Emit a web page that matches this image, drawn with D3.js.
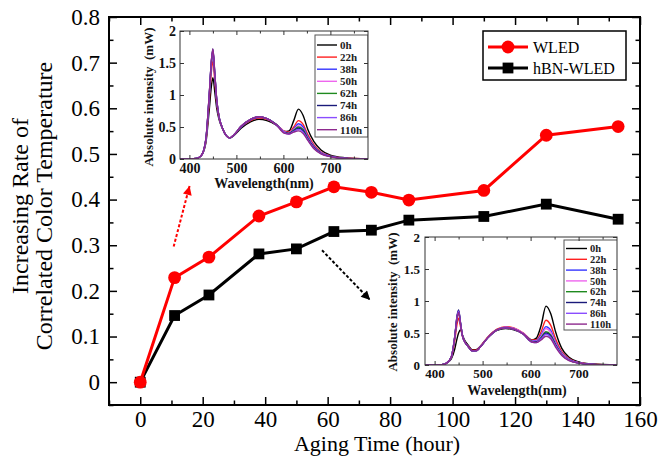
<!DOCTYPE html>
<html><head><meta charset="utf-8">
<script src="https://cdn.jsdelivr.net/npm/d3@7"></script>
<style>
body{margin:0;background:#fff}
svg{display:block}
svg text{font-family:"Liberation Serif","Times New Roman",Times,serif !important;}
</style>
</head><body>
<svg id="c" width="659" height="461"></svg>
<script>
// ---------- main chart data ----------
const hours = [0, 11, 22, 38, 50, 62, 74, 86, 110, 130, 153];
const wledRate = [0, 0.229, 0.274, 0.364, 0.395, 0.428, 0.416, 0.399, 0.420, 0.541, 0.560];
const hbnRate  = [0, 0.146, 0.191, 0.281, 0.292, 0.330, 0.333, 0.355, 0.363, 0.390, 0.357];
const seriesNames = ["WLED", "hBN-WLED"];
const xTicks = [0, 20, 40, 60, 80, 100, 120, 140, 160];
const xMinor = [-10, 10, 30, 50, 70, 90, 110, 130, 150];
const yTicks = [0, 0.1, 0.2, 0.3, 0.4, 0.5, 0.6, 0.7, 0.8];
const yMinor = [-0.05, 0.05, 0.15, 0.25, 0.35, 0.45, 0.55, 0.65, 0.75];
const xTitle = "Aging Time (hour)";
const yTitle = ["Increasing Rate of", "Correlated Color Temperature"];
// arrows (data coords): [fromHour, fromRate, toHour, toRate]
const redArrow = [10.7, 0.297, 15.8, 0.43];
const blackArrow = [58.2, 0.289, 73.6, 0.18];

// ---------- inset spectra data ----------
const specLabels = ["0h", "22h", "38h", "50h", "62h", "74h", "86h", "110h"];
const specColors = ["#000000", "#ff2020", "#3535ff", "#ee66ee", "#1f8a1f", "#1a1a7a", "#8a4dff", "#8e2a8e"];
const wavelengths = [380, 415, 425, 435, 442, 447, 450, 454, 458, 463, 470, 478, 486, 495, 510, 530, 548, 565, 585, 603, 612, 622, 632, 642, 652, 665, 680, 700, 730, 780];
const wledSpectra = [
  [0, 0.01, 0.05, 0.25, 0.75, 1.15, 1.27, 1.05, 0.80, 0.62, 0.48, 0.37, 0.33, 0.37, 0.48, 0.58, 0.62, 0.60, 0.53, 0.43, 0.44, 0.60, 0.78, 0.68, 0.46, 0.27, 0.14, 0.06, 0.02, 0],
  [0, 0.01, 0.05, 0.28, 0.88, 1.38, 1.53, 1.22, 0.88, 0.65, 0.49, 0.37, 0.33, 0.38, 0.50, 0.60, 0.64, 0.62, 0.54, 0.43, 0.42, 0.50, 0.60, 0.54, 0.38, 0.22, 0.11, 0.05, 0.015, 0],
  [0, 0.01, 0.05, 0.30, 0.95, 1.50, 1.66, 1.30, 0.92, 0.66, 0.49, 0.37, 0.33, 0.38, 0.50, 0.61, 0.65, 0.63, 0.54, 0.42, 0.41, 0.47, 0.55, 0.50, 0.35, 0.20, 0.10, 0.045, 0.012, 0],
  [0, 0.01, 0.05, 0.30, 0.97, 1.54, 1.70, 1.33, 0.93, 0.66, 0.49, 0.37, 0.33, 0.38, 0.51, 0.62, 0.66, 0.63, 0.54, 0.42, 0.41, 0.46, 0.52, 0.47, 0.33, 0.19, 0.095, 0.04, 0.01, 0],
  [0, 0.01, 0.05, 0.30, 0.96, 1.53, 1.69, 1.32, 0.93, 0.66, 0.49, 0.37, 0.33, 0.38, 0.51, 0.62, 0.66, 0.63, 0.54, 0.41, 0.40, 0.45, 0.50, 0.46, 0.32, 0.18, 0.09, 0.04, 0.01, 0],
  [0, 0.01, 0.05, 0.31, 0.98, 1.55, 1.72, 1.34, 0.94, 0.66, 0.49, 0.37, 0.33, 0.38, 0.51, 0.62, 0.66, 0.63, 0.54, 0.41, 0.40, 0.44, 0.48, 0.44, 0.31, 0.18, 0.09, 0.04, 0.01, 0],
  [0, 0.01, 0.05, 0.30, 0.97, 1.54, 1.70, 1.33, 0.93, 0.66, 0.49, 0.37, 0.33, 0.38, 0.51, 0.62, 0.66, 0.63, 0.53, 0.41, 0.39, 0.43, 0.46, 0.42, 0.30, 0.17, 0.085, 0.04, 0.01, 0],
  [0, 0.01, 0.05, 0.31, 0.98, 1.55, 1.72, 1.34, 0.94, 0.66, 0.49, 0.37, 0.33, 0.38, 0.51, 0.62, 0.66, 0.63, 0.53, 0.40, 0.39, 0.42, 0.44, 0.40, 0.29, 0.16, 0.08, 0.035, 0.01, 0]
];
const hbnSpectra = [
  [0, 0.005, 0.03, 0.10, 0.25, 0.42, 0.50, 0.55, 0.47, 0.38, 0.31, 0.24, 0.24, 0.29, 0.42, 0.54, 0.57, 0.55, 0.49, 0.39, 0.42, 0.62, 0.92, 0.80, 0.52, 0.26, 0.12, 0.05, 0.015, 0],
  [0, 0.005, 0.03, 0.12, 0.38, 0.65, 0.73, 0.60, 0.45, 0.36, 0.30, 0.23, 0.23, 0.29, 0.43, 0.56, 0.60, 0.58, 0.50, 0.39, 0.39, 0.52, 0.70, 0.62, 0.41, 0.21, 0.10, 0.04, 0.012, 0],
  [0, 0.005, 0.03, 0.13, 0.43, 0.75, 0.83, 0.65, 0.46, 0.36, 0.29, 0.22, 0.22, 0.28, 0.42, 0.55, 0.59, 0.57, 0.49, 0.38, 0.38, 0.47, 0.60, 0.54, 0.36, 0.19, 0.09, 0.035, 0.01, 0],
  [0, 0.005, 0.03, 0.13, 0.44, 0.77, 0.85, 0.66, 0.46, 0.36, 0.29, 0.22, 0.22, 0.28, 0.42, 0.55, 0.59, 0.57, 0.49, 0.37, 0.37, 0.45, 0.57, 0.51, 0.34, 0.18, 0.085, 0.035, 0.01, 0],
  [0, 0.005, 0.03, 0.13, 0.44, 0.76, 0.84, 0.65, 0.46, 0.36, 0.29, 0.22, 0.22, 0.28, 0.42, 0.55, 0.58, 0.56, 0.48, 0.37, 0.36, 0.43, 0.52, 0.47, 0.32, 0.17, 0.08, 0.03, 0.01, 0],
  [0, 0.005, 0.03, 0.13, 0.45, 0.78, 0.86, 0.66, 0.46, 0.36, 0.29, 0.22, 0.22, 0.28, 0.42, 0.55, 0.58, 0.56, 0.48, 0.36, 0.36, 0.42, 0.50, 0.45, 0.31, 0.16, 0.075, 0.03, 0.01, 0],
  [0, 0.005, 0.03, 0.13, 0.44, 0.76, 0.84, 0.65, 0.46, 0.36, 0.29, 0.22, 0.22, 0.28, 0.42, 0.55, 0.58, 0.56, 0.48, 0.36, 0.35, 0.41, 0.48, 0.43, 0.30, 0.16, 0.075, 0.03, 0.01, 0],
  [0, 0.005, 0.03, 0.13, 0.43, 0.74, 0.82, 0.64, 0.46, 0.36, 0.29, 0.22, 0.22, 0.28, 0.42, 0.55, 0.58, 0.56, 0.48, 0.36, 0.35, 0.39, 0.45, 0.41, 0.28, 0.15, 0.07, 0.03, 0.01, 0]
];
const specXTicks = [400, 500, 600, 700];
const specXMinor = [450, 550, 650, 750];
const specYTicks = [0, 0.5, 1, 1.5, 2];
const specXTitle = "Wavelength(nm)";
const specYTitle = "Absolute intensity  (mW)";

// ---------- drawing ----------
const svg = d3.select("#c");
const defs = svg.append("defs");
const M = {l: 109, r: 640, t: 17, b: 405};
const x = d3.scaleLinear([-10, 160], [M.l, M.r]);
const y = d3.scaleLinear([-0.05, 0.8], [M.b, M.t]);

function styleAxis(g, size, weight) {
  g.select(".domain").remove();
  g.attr("font-family", null);
  g.selectAll("line").attr("stroke", "#000").attr("stroke-width", 1.5);
  g.selectAll("text").attr("font-size", size).attr("fill", "#000")
    .attr("font-weight", weight || "normal");
}
// main axes
svg.append("g").attr("transform", `translate(0,${M.b})`)
  .call(d3.axisBottom(x).tickValues(xTicks).tickSize(-8).tickPadding(6).tickFormat(d3.format("d")))
  .call(g => styleAxis(g, 23));
svg.append("g").attr("transform", `translate(0,${M.b})`)
  .call(d3.axisBottom(x).tickValues(xMinor).tickSize(-4.5).tickFormat(""))
  .call(g => styleAxis(g, 23));
svg.append("g").attr("transform", `translate(0,${M.t})`)
  .call(d3.axisTop(x).tickValues(xTicks).tickSize(-8).tickFormat(""))
  .call(g => styleAxis(g, 23));
svg.append("g").attr("transform", `translate(0,${M.t})`)
  .call(d3.axisTop(x).tickValues(xMinor).tickSize(-4.5).tickFormat(""))
  .call(g => styleAxis(g, 23));
svg.append("g").attr("transform", `translate(${M.l},0)`)
  .call(d3.axisLeft(y).tickValues(yTicks).tickSize(-8).tickPadding(9).tickFormat(d => d === 0 ? "0" : d.toFixed(1)))
  .call(g => styleAxis(g, 23));
svg.append("g").attr("transform", `translate(${M.l},0)`)
  .call(d3.axisLeft(y).tickValues(yMinor).tickSize(-4.5).tickFormat(""))
  .call(g => styleAxis(g, 23));
svg.append("g").attr("transform", `translate(${M.r},0)`)
  .call(d3.axisRight(y).tickValues(yTicks).tickSize(-8).tickFormat(""))
  .call(g => styleAxis(g, 23));
svg.append("g").attr("transform", `translate(${M.r},0)`)
  .call(d3.axisRight(y).tickValues(yMinor).tickSize(-4.5).tickFormat(""))
  .call(g => styleAxis(g, 23));
svg.append("rect").attr("x", M.l).attr("y", M.t).attr("width", M.r - M.l).attr("height", M.b - M.t)
  .attr("fill", "none").attr("stroke", "#000").attr("stroke-width", 2);

// titles
svg.append("text").attr("x", 377).attr("y", 451).attr("text-anchor", "middle")
  .attr("font-size", 22).text(xTitle);
yTitle.forEach((t, i) => {
  svg.append("text").attr("transform", `translate(${[28, 52][i]},206) rotate(-90)`)
    .attr("text-anchor", "middle").attr("font-size", 24).text(t);
});

// series
const series = [
  {name: seriesNames[0], vals: wledRate, color: "#ff0000", shape: "circle"},
  {name: seriesNames[1], vals: hbnRate, color: "#000000", shape: "square"}
];
const line = d3.line().x(d => x(d[0])).y(d => y(d[1]));
function marker(g, shape, color, cx, cy) {
  if (shape === "circle") g.append("circle").attr("cx", cx).attr("cy", cy).attr("r", 6.4).attr("fill", color);
  else g.append("rect").attr("x", cx - 5.4).attr("y", cy - 5.4).attr("width", 10.8).attr("height", 10.8).attr("fill", color);
}
[series[1], series[0]].forEach(s => {
  const pts = hours.map((h, i) => [h, s.vals[i]]);
  svg.append("path").attr("d", line(pts)).attr("fill", "none").attr("stroke", s.color).attr("stroke-width", 3);
  const g = svg.append("g");
  pts.forEach(p => marker(g, s.shape, s.color, x(p[0]), y(p[1])));
});

// arrows
function arrow(a, color, id) {
  defs.append("marker").attr("id", id).attr("viewBox", "0 0 10 10").attr("refX", 10).attr("refY", 5)
    .attr("markerWidth", 10).attr("markerHeight", 9).attr("markerUnits", "userSpaceOnUse").attr("orient", "auto")
    .append("path").attr("d", "M0,0L10,5L0,10Z").attr("fill", color);
  svg.append("line").attr("x1", x(a[0])).attr("y1", y(a[1])).attr("x2", x(a[2])).attr("y2", y(a[3]))
    .attr("stroke", color).attr("stroke-width", 2).attr("stroke-dasharray", "3,2")
    .attr("marker-end", `url(#${id})`);
}
arrow(redArrow, "#ff0000", "ar");
arrow(blackArrow, "#000000", "ab");

// legend
const lg = svg.append("g");
lg.append("rect").attr("x", 483).attr("y", 31).attr("width", 143).attr("height", 49)
  .attr("fill", "#fff").attr("stroke", "#000").attr("stroke-width", 1.5);
series.forEach((s, i) => {
  const ly = [47, 68][i];
  lg.append("line").attr("x1", 488).attr("x2", 528).attr("y1", ly).attr("y2", ly).attr("stroke", s.color).attr("stroke-width", 3);
  marker(lg, s.shape, s.color, 508, ly);
  lg.append("text").attr("x", 533).attr("y", ly + 6).attr("font-size", 16).text(s.name);
});

// ---------- insets ----------
function inset(o) {
  const g = svg.append("g");
  const xs = d3.scaleLinear([380, 780], [o.x0, o.x1]);
  const ys = d3.scaleLinear([0, 2], [o.y1, o.y0]);
  g.append("rect").attr("x", o.x0).attr("y", o.y0).attr("width", o.x1 - o.x0).attr("height", o.y1 - o.y0).attr("fill", "#fff");
  const cid = o.id + "clip";
  defs.append("clipPath").attr("id", cid).append("rect")
    .attr("x", o.x0).attr("y", o.y0).attr("width", o.x1 - o.x0).attr("height", o.y1 - o.y0);
  const inner = g.append("g").attr("clip-path", `url(#${cid})`);
  const sl = d3.line().x((d, i) => xs(wavelengths[i])).y(d => ys(d)).curve(d3.curveMonotoneX);
  o.data.forEach((arr, k) => {
    inner.append("path").attr("d", sl(arr)).attr("fill", "none").attr("stroke", specColors[k]).attr("stroke-width", 1.4);
  });
  // legend
  const L = o.leg;
  inner.append("rect").attr("x", L.x).attr("y", L.y).attr("width", L.w).attr("height", L.h)
    .attr("fill", "#fff").attr("stroke", "#555").attr("stroke-width", 1);
  specLabels.forEach((lab, k) => {
    const ly = L.r0 + k * L.step;
    inner.append("line").attr("x1", L.lx0).attr("x2", L.lx1).attr("y1", ly).attr("y2", ly)
      .attr("stroke", specColors[k]).attr("stroke-width", 1.4);
    inner.append("text").attr("x", L.tx).attr("y", ly + L.fs * 0.35)
      .attr("font-weight", "bold").attr("font-size", L.fs).attr("fill", "#222").text(lab);
  });
  // axes
  const ax = (axisGen, tr) => g.append("g").attr("transform", tr).call(axisGen)
    .call(a => { a.select(".domain").remove(); a.attr("font-family", null);
      a.selectAll("line").attr("stroke", "#333").attr("stroke-width", 1);
      a.selectAll("text").attr("font-weight", "bold").attr("font-size", o.tfs).attr("fill", "#111"); });
  ax(d3.axisBottom(xs).tickValues(specXTicks).tickSize(-4).tickPadding(o.xpad), `translate(0,${o.y1})`);
  ax(d3.axisBottom(xs).tickValues(specXMinor).tickSize(-2.5).tickFormat(""), `translate(0,${o.y1})`);
  ax(d3.axisTop(xs).tickValues(specXTicks).tickSize(-4).tickFormat(""), `translate(0,${o.y0})`);
  ax(d3.axisTop(xs).tickValues(specXMinor).tickSize(-2.5).tickFormat(""), `translate(0,${o.y0})`);
  ax(d3.axisLeft(ys).tickValues(specYTicks).tickSize(-4).tickPadding(o.ypad).tickFormat(d3.format("~g")), `translate(${o.x0},0)`);
  ax(d3.axisRight(ys).tickValues(specYTicks).tickSize(-4).tickFormat(""), `translate(${o.x1},0)`);
  g.append("rect").attr("x", o.x0).attr("y", o.y0).attr("width", o.x1 - o.x0).attr("height", o.y1 - o.y0)
    .attr("fill", "none").attr("stroke", "#333").attr("stroke-width", 1);
  g.append("text").attr("x", o.xtx).attr("y", o.xty).attr("text-anchor", "middle")
    .attr("font-weight", "bold").attr("font-size", 14).attr("fill", "#111").text(specXTitle);
  g.append("text").attr("transform", `translate(${o.ytx},${o.yty}) rotate(-90)`).attr("text-anchor", "middle")
    .attr("font-weight", "bold").attr("font-size", 13).attr("fill", "#111")
    .style("white-space", "pre").text(specYTitle);
}
inset({id: "i1", x0: 180, x1: 368, y0: 31, y1: 159, data: wledSpectra, xpad: 4, ypad: 4, tfs: 14,
  xtx: 264, xty: 188, ytx: 153, yty: 97,
  leg: {x: 315, y: 35, w: 53, h: 102, r0: 45, step: 12.1, lx0: 317, lx1: 337, tx: 340, fs: 11}});
inset({id: "i2", x0: 425, x1: 617, y0: 237, y1: 365, data: hbnSpectra, xpad: 4, ypad: 5, tfs: 13,
  xtx: 517, xty: 395, ytx: 397, yty: 302,
  leg: {x: 564, y: 240, w: 60, h: 90, r0: 248.5, step: 10.8, lx0: 566, lx1: 587, tx: 590, fs: 10.5}});
</script>
</body></html>
